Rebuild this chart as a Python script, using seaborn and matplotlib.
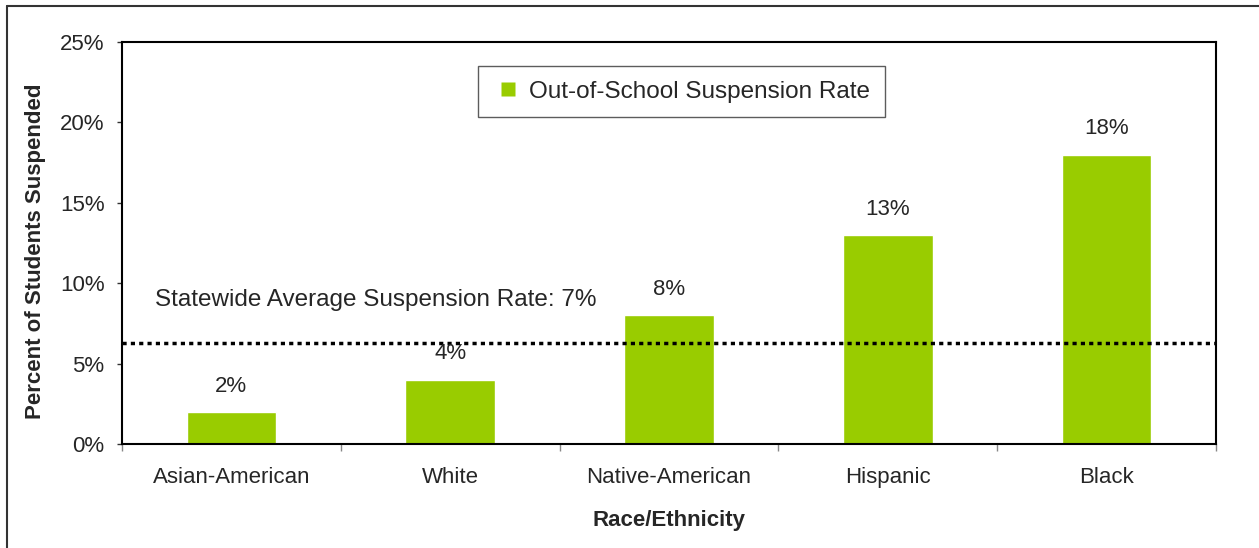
import matplotlib
matplotlib.use('Agg')
import pandas as pd
import seaborn as sns
import matplotlib.pyplot as plt
from matplotlib.lines import Line2D
from matplotlib.ticker import PercentFormatter

sns.set_style('white')
plt.rcParams['font.family'] = ['Liberation Sans', 'DejaVu Sans']

groups = ['Asian-American', 'White', 'Native-American', 'Hispanic', 'Black']
rates = [2, 4, 8, 13, 18]
labels = ['2%', '4%', '8%', '13%', '18%']
state_avg = 6.3
state_avg_text = 'Statewide Average Suspension Rate: 7%'
series_name = 'Out-of-School Suspension Rate'
green = '#99cc00'

df = pd.DataFrame({'Race/Ethnicity': groups, 'Rate': rates})

fig = plt.figure(figsize=(12.59, 5.48), dpi=100)
ax = fig.add_axes([122 / 1259, 1 - 444 / 548, 1094 / 1259, 402 / 548])

sns.barplot(data=df, x='Race/Ethnicity', y='Rate', color=green, width=0.41,
            saturation=1, ax=ax)

ax.set_xlim(-0.5, len(groups) - 0.5)
ax.set_ylim(0, 25)
ax.set_yticks(range(0, 26, 5))
ax.yaxis.set_major_formatter(PercentFormatter(decimals=0))
ax.tick_params(axis='y', direction='out', length=3.6, width=1, color='#333333',
               labelsize=16, pad=9, left=True)

# category ticks sit between the bars
ax.set_xticks(range(len(groups)))
ax.set_xticklabels(groups, fontsize=16)
ax.tick_params(axis='x', length=0, pad=16.5)
ax.set_xticks([i - 0.5 for i in range(len(groups) + 1)], minor=True)
ax.tick_params(axis='x', which='minor', direction='out', length=5, width=1,
               color='#888888', bottom=True)

for sp in ax.spines.values():
    sp.set_color('black')
    sp.set_linewidth(1.5)

ax.set_xlabel('Race/Ethnicity', fontsize=16, fontweight='bold', labelpad=16)
ax.set_ylabel('Percent of Students Suspended', fontsize=16, fontweight='bold')
ax.yaxis.set_label_coords(-0.0695, 0.48)

for i, (v, t) in enumerate(zip(rates, labels)):
    ax.annotate(t, (i, v), xytext=(0, 18.5), textcoords='offset points',
                ha='center', va='center', fontsize=16)

ax.axhline(state_avg, color='black', linestyle=(0, (1.2, 1.2)), linewidth=2.5,
           clip_on=False)
ax.text(0.03, 8.95, state_avg_text, transform=ax.get_yaxis_transform(),
        ha='left', va='center', fontsize=17.5)

handle = Line2D([], [], marker='s', linestyle='none', markersize=10.5,
                markerfacecolor=green, markeredgecolor='none', label=series_name)
leg = ax.legend(handles=[handle], loc='upper left',
                bbox_to_anchor=((478 - 122) / 1094, 1 - (66 - 42) / 402),
                frameon=True, fancybox=False, fontsize=17.5, handlelength=1.3,
                handletextpad=0.2, borderpad=0.6, borderaxespad=0,
                edgecolor='#333333')
leg.get_frame().set_linewidth(1)

# outer chart-area frame (left and top edges only visible)
fig.add_artist(Line2D([7 / 1259, 7 / 1259], [0, 1 - 6 / 548], color='#333333', lw=1.5))
fig.add_artist(Line2D([7 / 1259, 1], [1 - 6 / 548, 1 - 6 / 548], color='#333333', lw=1.5))

fig.savefig('out.png', dpi=100)
